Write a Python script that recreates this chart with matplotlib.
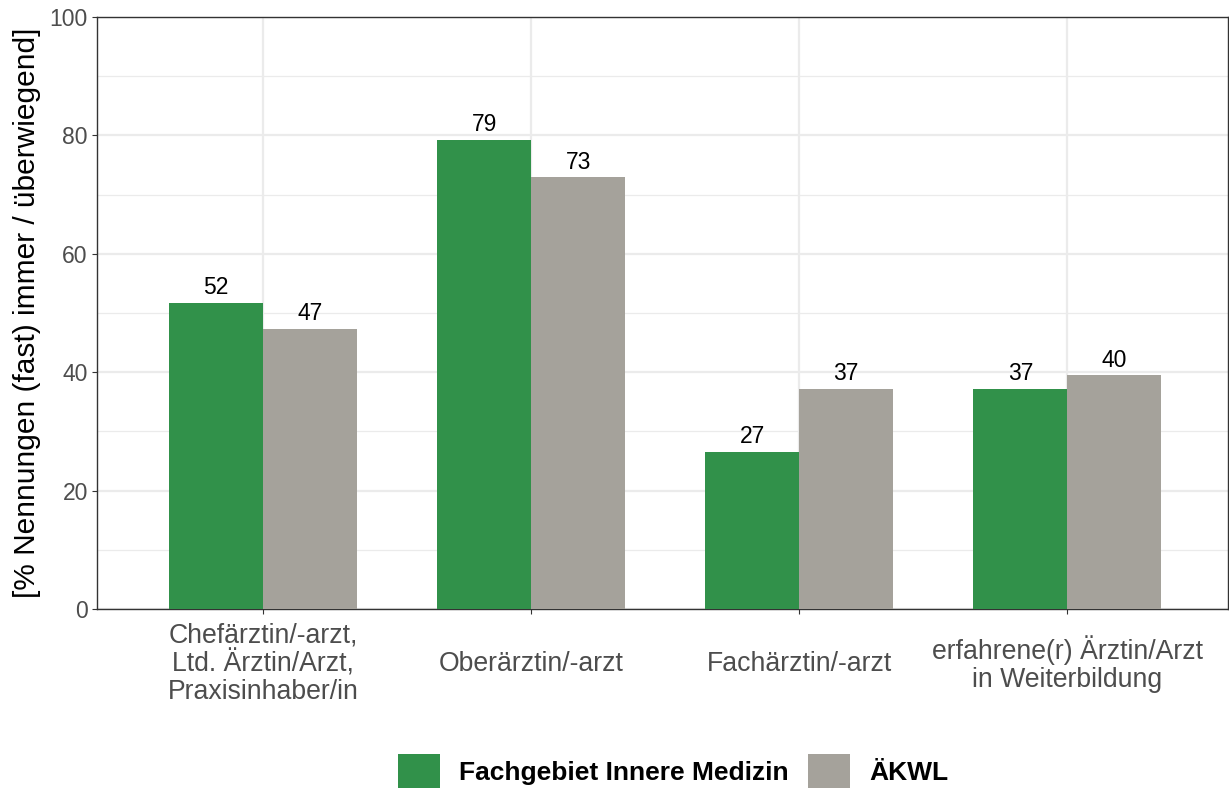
import numpy as np
import matplotlib
matplotlib.use("Agg")
import matplotlib.pyplot as plt
from matplotlib.patches import Patch
from matplotlib.ticker import MultipleLocator

plt.rcParams['font.family'] = ['Liberation Sans', 'DejaVu Sans']

categories = ["Chefärztin/-arzt,\nLtd. Ärztin/Arzt,\nPraxisinhaber/in",
              "Oberärztin/-arzt",
              "Fachärztin/-arzt",
              "erfahrene(r) Ärztin/Arzt\nin Weiterbildung"]
innere = [51.7, 79.3, 26.6, 37.2]
aekwl = [47.3, 72.9, 37.2, 39.5]
innere_labels = ["52", "79", "27", "37"]
aekwl_labels = ["47", "73", "37", "40"]
series_names = ["Fachgebiet Innere Medizin", "ÄKWL"]
colors = ["#31914A", "#A5A29B"]

fig = plt.figure(figsize=(12.29, 7.92), dpi=100)
ax = fig.add_axes([97 / 1229, 1 - 609 / 792, (1228 - 97) / 1229, (609 - 17) / 792])

x = np.arange(len(categories))
w = 0.35
for i, (vals, labs, col) in enumerate(zip([innere, aekwl], [innere_labels, aekwl_labels], colors)):
    pos = x + (i - 0.5) * w
    ax.bar(pos, vals, width=w, color=col, zorder=3)
    for p, v, t in zip(pos, vals, labs):
        ax.text(p, v + 0.6, t, ha="center", va="bottom",
                fontsize=16.5, color="black", zorder=4)

ax.set_xlim(-0.62, 3.6)
ax.set_ylim(0, 100)
ax.yaxis.set_major_locator(MultipleLocator(20))
ax.yaxis.set_minor_locator(MultipleLocator(10))
ax.grid(which="major", color="#EBEBEB", linewidth=1.6, zorder=0)
ax.grid(which="minor", axis="y", color="#EBEBEB", linewidth=0.9, zorder=0)
ax.set_xticks(x)
ax.set_xticklabels(categories, fontsize=19.2, color="#4D4D4D", linespacing=1.08)
for lbl in ax.get_xticklabels():
    lbl.set_va("center")
ax.tick_params(axis="y", labelsize=16.5, labelcolor="#4D4D4D", color="#333333",
               length=3.6, pad=3)
ax.tick_params(axis="x", color="#333333", length=3.6, pad=36)
ax.tick_params(which="minor", length=0)
for s in ax.spines.values():
    s.set_color("#333333")
    s.set_linewidth(1.0)
ax.set_ylabel("[% Nennungen (fast) immer / überwiegend]", fontsize=21.5, labelpad=6)

handles = [Patch(facecolor=c, label=n) for c, n in zip(colors, series_names)]
fig.legend(handles=handles, loc="center", bbox_to_anchor=(673 / 1229, 1 - 771 / 792),
           ncol=2, frameon=False, prop={"weight": "bold", "size": 19},
           handlelength=1.6, handleheight=1.6, columnspacing=0.75, handletextpad=0.7,
           borderpad=0, borderaxespad=0)

fig.savefig("out.png", dpi=100)
